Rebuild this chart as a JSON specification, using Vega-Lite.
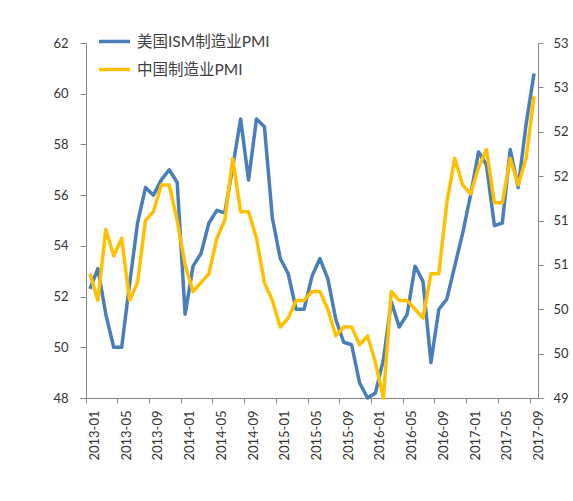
{
  "$schema": "https://vega.github.io/schema/vega-lite/v6.json",
  "width": 452,
  "height": 355,
  "autosize": {"type": "none"},
  "padding": {"left": 86, "top": 43, "right": 35, "bottom": 103},
  "background": "white",
  "config": {
    "view": {"stroke": null},
    "font": "Lato",
    "axis": {"grid": false, "domainColor": "#868686", "tickColor": "#868686", "labelColor": "#333333", "labelFont": "Lato", "labelFontSize": 13, "title": null}
  },
  "data": {
    "values": [
      {"month": "2013-01", "us": 52.3, "cn": 50.4},
      {"month": "2013-02", "us": 53.1, "cn": 50.1},
      {"month": "2013-03", "us": 51.3, "cn": 50.9},
      {"month": "2013-04", "us": 50.0, "cn": 50.6},
      {"month": "2013-05", "us": 50.0, "cn": 50.8},
      {"month": "2013-06", "us": 52.5, "cn": 50.1},
      {"month": "2013-07", "us": 54.9, "cn": 50.3},
      {"month": "2013-08", "us": 56.3, "cn": 51.0},
      {"month": "2013-09", "us": 56.0, "cn": 51.1},
      {"month": "2013-10", "us": 56.6, "cn": 51.4},
      {"month": "2013-11", "us": 57.0, "cn": 51.4},
      {"month": "2013-12", "us": 56.5, "cn": 51.0},
      {"month": "2014-01", "us": 51.3, "cn": 50.5},
      {"month": "2014-02", "us": 53.2, "cn": 50.2},
      {"month": "2014-03", "us": 53.7, "cn": 50.3},
      {"month": "2014-04", "us": 54.9, "cn": 50.4},
      {"month": "2014-05", "us": 55.4, "cn": 50.8},
      {"month": "2014-06", "us": 55.3, "cn": 51.0},
      {"month": "2014-07", "us": 57.1, "cn": 51.7},
      {"month": "2014-08", "us": 59.0, "cn": 51.1},
      {"month": "2014-09", "us": 56.6, "cn": 51.1},
      {"month": "2014-10", "us": 59.0, "cn": 50.8},
      {"month": "2014-11", "us": 58.7, "cn": 50.3},
      {"month": "2014-12", "us": 55.1, "cn": 50.1},
      {"month": "2015-01", "us": 53.5, "cn": 49.8},
      {"month": "2015-02", "us": 52.9, "cn": 49.9},
      {"month": "2015-03", "us": 51.5, "cn": 50.1},
      {"month": "2015-04", "us": 51.5, "cn": 50.1},
      {"month": "2015-05", "us": 52.8, "cn": 50.2},
      {"month": "2015-06", "us": 53.5, "cn": 50.2},
      {"month": "2015-07", "us": 52.7, "cn": 50.0},
      {"month": "2015-08", "us": 51.1, "cn": 49.7},
      {"month": "2015-09", "us": 50.2, "cn": 49.8},
      {"month": "2015-10", "us": 50.1, "cn": 49.8},
      {"month": "2015-11", "us": 48.6, "cn": 49.6},
      {"month": "2015-12", "us": 48.0, "cn": 49.7},
      {"month": "2016-01", "us": 48.2, "cn": 49.4},
      {"month": "2016-02", "us": 49.5, "cn": 49.0},
      {"month": "2016-03", "us": 51.8, "cn": 50.2},
      {"month": "2016-04", "us": 50.8, "cn": 50.1},
      {"month": "2016-05", "us": 51.3, "cn": 50.1},
      {"month": "2016-06", "us": 53.2, "cn": 50.0},
      {"month": "2016-07", "us": 52.6, "cn": 49.9},
      {"month": "2016-08", "us": 49.4, "cn": 50.4},
      {"month": "2016-09", "us": 51.5, "cn": 50.4},
      {"month": "2016-10", "us": 51.9, "cn": 51.2},
      {"month": "2016-11", "us": 53.2, "cn": 51.7},
      {"month": "2016-12", "us": 54.5, "cn": 51.4},
      {"month": "2017-01", "us": 56.0, "cn": 51.3},
      {"month": "2017-02", "us": 57.7, "cn": 51.6},
      {"month": "2017-03", "us": 57.2, "cn": 51.8},
      {"month": "2017-04", "us": 54.8, "cn": 51.2},
      {"month": "2017-05", "us": 54.9, "cn": 51.2},
      {"month": "2017-06", "us": 57.8, "cn": 51.7},
      {"month": "2017-07", "us": 56.3, "cn": 51.4},
      {"month": "2017-08", "us": 58.8, "cn": 51.7},
      {"month": "2017-09", "us": 60.8, "cn": 52.4}
    ]
  },
  "encoding": {
    "x": {
      "field": "month",
      "type": "ordinal",
      "sort": null,
      "bandPosition": 0.5,
      "scale": {"type": "band", "paddingInner": 0, "paddingOuter": 0},
      "axis": {
        "values": ["2013-01", "2013-05", "2013-09", "2014-01", "2014-05", "2014-09", "2015-01", "2015-05", "2015-09", "2016-01", "2016-05", "2016-09", "2017-01", "2017-05", "2017-09"],
        "bandPosition": 0,
        "labelOffset": 5,
        "labelAngle": 270,
        "labelAlign": "right",
        "labelBaseline": "middle",
        "tickSize": 5,
        "labelPadding": 7
      }
    }
  },
  "layer": [
    {
      "mark": {"type": "line", "strokeWidth": 3.5, "strokeJoin": "round"},
      "encoding": {
        "y": {
          "field": "us",
          "type": "quantitative",
          "scale": {"domain": [48, 62], "nice": false, "zero": false},
          "axis": {"orient": "left", "values": [48, 50, 52, 54, 56, 58, 60, 62], "tickSize": 6, "labelPadding": 12}
        },
        "color": {
          "datum": "美国ISM制造业PMI",
          "type": "nominal",
          "scale": {"domain": ["美国ISM制造业PMI", "中国制造业PMI"], "range": ["#4A7EBB", "#FFC000"]},
          "legend": {
            "orient": "none",
            "legendX": 11,
            "legendY": -19,
            "title": null,
            "padding": 0,
            "symbolType": "stroke",
            "symbolSize": 961,
            "symbolStrokeWidth": 3.5,
            "labelFont": "Lato, Noto Sans CJK SC",
            "labelFontSize": 15.5,
            "labelColor": "#404040",
            "labelOffset": 5,
            "rowPadding": 2
          }
        }
      }
    },
    {
      "mark": {"type": "line", "strokeWidth": 3.5, "strokeJoin": "round"},
      "encoding": {
        "y": {
          "field": "cn",
          "type": "quantitative",
          "scale": {"domain": [49, 53], "nice": false, "zero": false},
          "axis": {"orient": "right", "values": [49, 49.5, 50, 50.5, 51, 51.5, 52, 52.5, 53], "format": ".0f", "tickSize": 5, "labelPadding": 10}
        },
        "color": {"datum": "中国制造业PMI", "type": "nominal"}
      }
    }
  ],
  "resolve": {"scale": {"y": "independent"}}
}
